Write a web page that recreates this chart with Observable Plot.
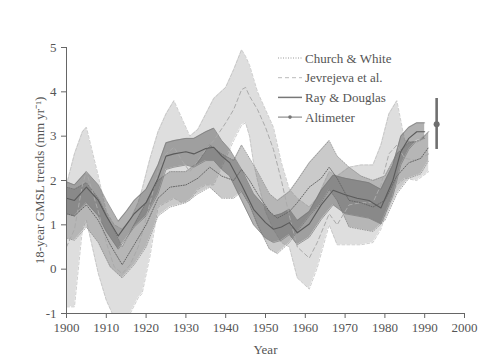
<!DOCTYPE html>
<html>
<head>
<meta charset="utf-8">
<script src="https://cdn.jsdelivr.net/npm/d3@7"></script>
<script src="https://cdn.jsdelivr.net/npm/@observablehq/plot@0.6"></script>
<style>
  html, body { margin: 0; padding: 0; background: #fff; }
  #wrap { position: relative; width: 500px; height: 361px; font-family: "Liberation Serif", "Times New Roman", serif; }
  #legend { position: absolute; left: 272px; top: 47px; }
</style>
</head>
<body>
<div id="wrap"></div>
<script>
// ---- Data ----
const xTicks = [1900, 1910, 1920, 1930, 1940, 1950, 1960, 1970, 1980, 1990, 2000];
const yTicks = [-1, 0, 1, 2, 3, 4, 5];
const seriesNames = ["Church & White", "Jevrejeva et al.", "Ray & Douglas", "Altimeter"];

// Church & White (dotted line, medium band)
const cwYears = [1900,1902,1905,1908,1911,1914,1917,1920,1923,1926,1930,1933,1936,1939,1942,1944,1946,1948,1951,1953,1956,1958,1961,1964,1966,1968,1971,1974,1977,1980,1983,1986,1989,1991];
const cwMid   = [1.25,1.2,1.45,1.1,0.55,0.1,0.55,1.0,1.6,1.85,1.9,2.05,2.3,2.1,2.0,2.25,2.0,1.7,1.3,1.15,1.3,1.5,1.85,2.05,2.3,2.05,1.55,1.5,1.4,1.55,2.1,2.4,2.5,2.75];
const cwLo    = [0.7,0.65,0.95,0.6,0.05,-0.2,0.1,0.5,1.2,1.4,1.5,1.7,1.85,1.6,1.6,1.75,1.45,1.0,0.45,0.35,0.6,0.85,1.2,1.5,1.8,1.55,0.95,0.9,0.85,1.1,1.7,2.05,2.15,2.45];
const cwHi    = [1.85,1.8,1.95,1.6,1.05,0.5,1.0,1.5,2.0,2.2,2.2,2.4,2.8,2.6,2.45,2.8,2.5,2.2,1.7,1.55,1.75,2.0,2.4,2.7,2.9,2.55,2.3,2.1,2.0,2.1,2.6,2.85,2.9,3.1];

// Jevrejeva et al. (dashed line, light band)
const jvYears = [1900,1902,1904,1905,1908,1910,1912,1914,1916,1918,1919,1921,1923,1925,1927,1929,1931,1933,1935,1937,1940,1942,1944,1945,1946,1947,1948,1950,1952,1954,1956,1958,1961,1963,1966,1968,1971,1974,1977,1979,1981,1983,1985,1988,1991];
const jvMid   = [0.5,0.9,1.9,2.2,1.3,0.6,0.05,-0.1,0.1,0.5,0.8,1.5,2.2,2.6,2.75,2.45,2.2,2.45,2.7,2.9,3.3,3.6,4.05,4.1,3.9,3.75,3.6,3.2,2.7,2.0,1.2,0.5,0.25,0.6,1.25,1.0,1.45,1.5,1.5,1.9,2.6,2.8,2.5,2.45,2.6];
const jvLo    = [-0.85,-0.85,0.9,1.1,-0.1,-0.7,-1.1,-1.3,-1.0,-0.65,-0.55,0.3,1.4,1.5,1.6,1.5,1.55,1.8,1.9,1.9,2.5,2.9,3.25,3.3,3.0,2.4,2.0,1.3,0.9,0.6,0.5,-0.2,-0.45,0.03,1.0,0.55,0.55,0.55,0.6,0.9,1.5,1.9,2.05,2.0,2.2];
const jvHi    = [1.9,2.6,3.1,3.2,2.1,1.3,1.0,0.9,1.1,1.5,1.8,2.5,3.1,3.5,3.8,3.4,3.0,3.15,3.5,3.85,4.1,4.5,4.95,4.8,4.6,4.3,4.0,3.6,3.2,2.4,1.8,1.6,1.4,1.6,2.2,2.1,2.3,2.35,2.35,2.8,3.5,3.8,2.9,2.85,3.1];

// Ray & Douglas (solid line, dark band)
const rdYears = [1900,1902,1905,1908,1910,1913,1915,1917,1920,1923,1925,1927,1930,1932,1935,1937,1939,1941,1944,1947,1950,1952,1954,1956,1958,1961,1964,1967,1970,1973,1976,1979,1982,1984,1986,1988,1990];
const rdMid   = [1.6,1.55,1.85,1.55,1.2,0.75,1.0,1.25,1.5,2.05,2.55,2.6,2.65,2.6,2.72,2.75,2.55,2.4,1.9,1.35,1.05,0.9,0.95,1.05,0.82,1.02,1.45,1.78,1.68,1.6,1.55,1.38,2.0,2.65,2.95,3.1,3.1];
const rdLo    = [1.25,1.2,1.5,1.2,0.85,0.45,0.7,0.95,1.2,1.7,2.25,2.3,2.35,2.3,2.45,2.45,2.25,2.1,1.55,1.0,0.7,0.6,0.65,0.78,0.55,0.72,1.12,1.45,1.25,1.2,1.15,1.02,1.65,2.35,2.7,2.9,2.95];
const rdHi    = [1.97,1.9,2.2,1.9,1.55,1.08,1.3,1.55,1.8,2.35,2.85,2.9,2.95,2.95,3.1,3.18,2.9,2.7,2.25,1.7,1.4,1.2,1.25,1.35,1.1,1.3,1.78,2.12,2.05,2.0,1.95,1.8,2.35,3.0,3.2,3.3,3.3];

// Altimeter trend with error bar
const altYear = 1993, altValue = 3.27, altLo = 2.7, altHi = 3.85;

// ---- Build tables ----
const table = (ys, m, lo, hi) => ys.map((year, i) => ({year, mid: m[i], lo: lo[i], hi: hi[i]}));
const cw = table(cwYears, cwMid, cwLo, cwHi);
const jv = table(jvYears, jvMid, jvLo, jvHi);
const rd = table(rdYears, rdMid, rdLo, rdHi);
const alt = [{year: altYear, value: altValue, lo: altLo, hi: altHi}];

const TXT = "#555";
const edge = (data, key, stroke, dash, w) =>
  Plot.lineY(data, {x: "year", y: key, stroke, strokeDasharray: dash, strokeWidth: w, clip: true});

const chart = Plot.plot({
  width: 500,
  height: 361,
  marginLeft: 66,
  marginRight: 36,
  marginTop: 47,
  marginBottom: 48,
  style: {fontFamily: '"Liberation Serif", "Times New Roman", serif', fontSize: "13px", color: TXT, background: "#fff"},
  x: {domain: [1900, 2000]},
  y: {domain: [-1, 5]},
  marks: [
    // Jevrejeva band
    Plot.areaY(jv, {x: "year", y1: "lo", y2: "hi", fill: "#dedede", clip: true}),
    edge(jv, "lo", "#c2c2c2", "3,2", 0.8),
    edge(jv, "hi", "#c2c2c2", "3,2", 0.8),
    // Church & White band
    Plot.areaY(cw, {x: "year", y1: "lo", y2: "hi", fill: "#7a7a7a", fillOpacity: 0.4, clip: true}),
    edge(cw, "lo", "#8e8e8e", "1,1.5", 0.8),
    edge(cw, "hi", "#8e8e8e", "1,1.5", 0.8),
    // Ray & Douglas band
    Plot.areaY(rd, {x: "year", y1: "lo", y2: "hi", fill: "#555", fillOpacity: 0.46, clip: true}),
    edge(rd, "lo", "#7a7a7a", null, 0.7),
    edge(rd, "hi", "#7a7a7a", null, 0.7),
    // central lines
    Plot.lineY(jv, {x: "year", y: "mid", stroke: "#aaa", strokeDasharray: "4,3", strokeWidth: 1, clip: true}),
    Plot.lineY(cw, {x: "year", y: "mid", stroke: "#666", strokeDasharray: "1,1.5", strokeWidth: 1, clip: true}),
    Plot.lineY(rd, {x: "year", y: "mid", stroke: "#5a5a5a", strokeWidth: 1.1, clip: true}),
    // altimeter
    Plot.ruleX(alt, {x: "year", y1: "lo", y2: "hi", stroke: "#6f6f6f", strokeWidth: 2.6}),
    Plot.dot(alt, {x: "year", y: "value", r: 3, fill: "#6f6f6f"}),
    // axes
    Plot.axisX({ticks: xTicks, tickFormat: d => String(d), tickSize: 5, tickPadding: 4, stroke: "#666", fill: TXT,
      label: "Year", labelAnchor: "center", labelOffset: 40, labelArrow: "none"}),
    Plot.axisY({ticks: yTicks, tickFormat: d => String(d), tickSize: 5, tickPadding: 5, stroke: "#666", fill: TXT,
      label: "18-year GMSL trends (mm yr\u207B\u00B9)", labelAnchor: "center", labelOffset: 32, labelArrow: "none"}),
    Plot.ruleX([1900], {stroke: "#666"}),
    Plot.ruleY([-1], {stroke: "#666"})
  ]
});

const wrap = document.getElementById("wrap");
wrap.appendChild(chart);

// ---- Legend (overlay inside the plot area) ----
const ns = "http://www.w3.org/2000/svg";
const lg = document.createElementNS(ns, "svg");
lg.setAttribute("id", "legend");
lg.setAttribute("width", 190);
lg.setAttribute("height", 85);
const styles = [
  {stroke: "#999", dash: "1,1.5", w: 1, dot: false},
  {stroke: "#bbb", dash: "4,3", w: 1, dot: false},
  {stroke: "#777", dash: null, w: 1.5, dot: false},
  {stroke: "#777", dash: null, w: 1, dot: true}
];
seriesNames.forEach((name, i) => {
  const yy = 11 + i * 19.7;
  const s = styles[i];
  const ln = document.createElementNS(ns, "line");
  ln.setAttribute("x1", 6); ln.setAttribute("x2", 30);
  ln.setAttribute("y1", yy); ln.setAttribute("y2", yy);
  ln.setAttribute("stroke", s.stroke);
  ln.setAttribute("stroke-width", s.w);
  if (s.dash) ln.setAttribute("stroke-dasharray", s.dash);
  lg.appendChild(ln);
  if (s.dot) {
    const c = document.createElementNS(ns, "circle");
    c.setAttribute("cx", 18); c.setAttribute("cy", yy); c.setAttribute("r", 1.8);
    c.setAttribute("fill", s.stroke);
    lg.appendChild(c);
  }
  const t = document.createElementNS(ns, "text");
  t.setAttribute("x", 33); t.setAttribute("y", yy);
  t.setAttribute("dy", "0.35em");
  t.setAttribute("fill", TXT);
  t.setAttribute("font-size", "13px");
  t.setAttribute("font-family", '"Liberation Serif", "Times New Roman", serif');
  t.textContent = name;
  lg.appendChild(t);
});
wrap.appendChild(lg);
</script>
</body>
</html>
